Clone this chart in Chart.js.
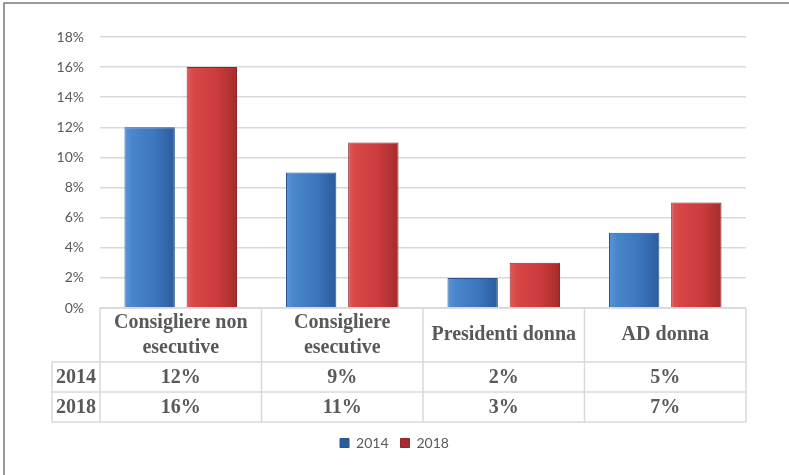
<!DOCTYPE html>
<html>
<head>
<meta charset="utf-8">
<script src="https://cdn.jsdelivr.net/npm/chart.js@4.4.1/dist/chart.umd.min.js"></script>
<style>
  html, body { margin: 0; padding: 0; background: #fff; }
  #wrap { width: 789px; height: 475px; position: relative; }
</style>
</head>
<body>
<div id="wrap"><canvas id="chart" width="789" height="475"></canvas></div>
<script>
// categories (multi-line ones as arrays)
const categories = [['Consigliere non', 'esecutive'], ['Consigliere', 'esecutive'], 'Presidenti donna', 'AD donna'];
const seriesNames = ['2014', '2018'];
const values2014 = [12, 9, 2, 5];
const values2018 = [16, 11, 3, 7];
const yMax = 18;
const yStep = 2;

const greyText = '#595959';
const lineGrey = '#d9d9d9';

// shaded bar fill, needs the bar's x so it is only built once the bar exists
function barFill(stops, flat) {
    return (ctx) => {
        const el = ctx.element;
        if (!el || el.x == null || el.width == null || isNaN(el.x)) return flat;
        const g = ctx.chart.ctx.createLinearGradient(el.x - el.width / 2, 0, el.x + el.width / 2, 0);
        g.addColorStop(0, stops[0]);
        g.addColorStop(0.15, stops[1]);
        g.addColorStop(0.6, stops[2]);
        g.addColorStop(1, stops[3]);
        return g;
    };
}

// data table under the plot, plus the outer frame
const tablePlugin = {
    id: 'dataTable',
    afterDraw(chart) {
        const c = chart.ctx;
        const area = chart.chartArea;
        const x = chart.scales.x;
        const top = area.bottom;
        const headBottom = top + 54;
        const row1Bottom = headBottom + 30;
        const row2Bottom = row1Bottom + 30;
        const labelLeft = 52;

        const n = categories.length;
        const step = (area.right - area.left) / n;
        const edges = [];
        for (let i = 0; i <= n; i++) edges.push(area.left + step * i);

        c.save();
        c.strokeStyle = lineGrey;
        c.lineWidth = 1.5;
        c.beginPath();
        // horizontal lines
        c.moveTo(area.left, top); c.lineTo(area.right, top);
        c.moveTo(labelLeft, headBottom); c.lineTo(area.right, headBottom);
        c.moveTo(labelLeft, row1Bottom); c.lineTo(area.right, row1Bottom);
        c.moveTo(labelLeft, row2Bottom); c.lineTo(area.right, row2Bottom);
        // vertical lines
        edges.forEach(e => { c.moveTo(e, top); c.lineTo(e, row2Bottom); });
        c.moveTo(labelLeft, headBottom); c.lineTo(labelLeft, row2Bottom);
        c.stroke();

        c.fillStyle = greyText;
        c.font = 'bold 20px "Liberation Serif", "Times New Roman", serif';
        c.textAlign = 'center';
        c.textBaseline = 'middle';

        categories.forEach((cat, i) => {
            const cx = x.getPixelForValue(i);
            const lines = Array.isArray(cat) ? cat : [cat];
            const mid = (top + headBottom) / 2;
            const lh = 25;
            lines.forEach((ln, j) => {
                c.fillText(ln, cx, mid + (j - (lines.length - 1) / 2) * lh);
            });
            c.fillText(values2014[i] + '%', cx, (headBottom + row1Bottom) / 2 + 1);
            c.fillText(values2018[i] + '%', cx, (row1Bottom + row2Bottom) / 2 + 1);
        });
        const lx = (labelLeft + area.left) / 2;
        c.fillText(seriesNames[0], lx, (headBottom + row1Bottom) / 2 + 1);
        c.fillText(seriesNames[1], lx, (row1Bottom + row2Bottom) / 2 + 1);

        // frame
        c.strokeStyle = '#7a7a7a';
        c.lineWidth = 1.5;
        c.beginPath();
        c.moveTo(4, chart.height); c.lineTo(4, 3); c.lineTo(chart.width, 3);
        c.stroke();
        c.restore();
    }
};

const chart = new Chart(document.getElementById('chart'), {
    type: 'bar',
    data: {
        labels: categories,
        datasets: [{
            label: seriesNames[0],
            data: values2014,
            backgroundColor: barFill(['#5a95d6', '#4a86cc', '#3c76bd', '#2b5c9e'], '#3c76bd'),
            borderColor: '#2a548c',
            borderWidth: 1,
            categoryPercentage: 0.77,
            barPercentage: 0.81
        }, {
            label: seriesNames[1],
            data: values2018,
            backgroundColor: barFill(['#e05a5a', '#d84646', '#cc3c3c', '#a52c2c'], '#cc3c3c'),
            borderColor: '#8e2626',
            borderWidth: 1,
            categoryPercentage: 0.77,
            barPercentage: 0.81
        }]
    },
    options: {
        responsive: false,
        animation: false,
        layout: { padding: { left: 0, right: 0, top: 37, bottom: 15 } },
        scales: {
            x: {
                ticks: { display: false },
                grid: { display: false },
                border: { display: false },
                afterFit: (s) => { s.height = 116; }
            },
            y: {
                min: 0,
                max: yMax,
                ticks: {
                    stepSize: yStep,
                    padding: 16,
                    color: greyText,
                    font: { family: 'Lato, "Open Sans", sans-serif', size: 14 },
                    callback: (v) => v + '%'
                },
                grid: { color: lineGrey, lineWidth: 1.5, drawTicks: false },
                border: { display: false },
                afterFit: (s) => { s.width = 100; }
            },
            // empty right margin so the legend stays centred on the page
            yRight: {
                axis: 'y',
                position: 'right',
                min: 0,
                max: yMax,
                ticks: { display: false },
                grid: { display: false },
                border: { display: false },
                afterFit: (s) => { s.width = 43; }
            }
        },
        plugins: {
            legend: {
                position: 'bottom',
                labels: {
                    boxWidth: 9,
                    boxHeight: 9,
                    padding: 12,
                    color: greyText,
                    font: { family: 'Lato, "Open Sans", sans-serif', size: 14 }
                }
            },
            tooltip: { enabled: false }
        }
    },
    plugins: [tablePlugin]
});
// second pass so the bar gradients can read the bar positions
chart.update('none');
</script>
</body>
</html>
